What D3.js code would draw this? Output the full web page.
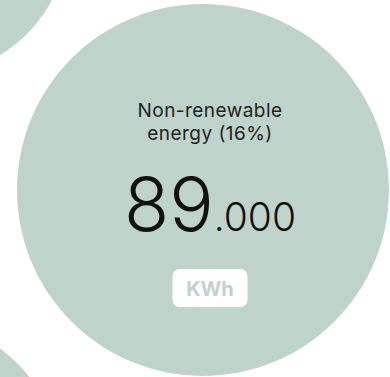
<!DOCTYPE html>
<html>
<head>
<meta charset="utf-8">
<script src="https://cdn.jsdelivr.net/npm/d3@7"></script>
<style>
  html, body { margin: 0; padding: 0; background: #ffffff; }
  svg { display: block; }
</style>
</head>
<body>
<div id="chart"></div>
<script>
// ---- data ----
const categories = ["Non-renewable energy", "Energy B", "Energy C"];
const values = [89000, 50400, 58700];      // KWh
const shares = [16, 9, 11];                // % of total
const unitLabel = "KWh";

// ---- layout (not data) ----
const width = 390, height = 377;
const focusIndex = 0;
const neighbourAngles = [null, -137.2, 136.3]; // degrees, relative to focus bubble
const neighbourGaps = [null, 49, 68];
const fill = "#bed3ca";

const svg = d3.select("#chart").append("svg")
  .attr("width", width).attr("height", height);

const r = d3.scaleSqrt().domain([0, d3.max(values)]).range([0, 186]);

const focus = { x: width / 2 + 8, y: height / 2 + 1.5 };

const nodes = values.map((v, i) => {
  const rad = r(v);
  if (i === focusIndex) return { i, v, rad, x: focus.x, y: focus.y };
  const a = neighbourAngles[i] * Math.PI / 180;
  const d = r(values[focusIndex]) + rad + neighbourGaps[i];
  return { i, v, rad, x: focus.x + d * Math.cos(a), y: focus.y + d * Math.sin(a) };
});

svg.selectAll("circle.bubble").data(nodes).join("circle")
  .attr("class", "bubble")
  .attr("cx", d => d.x).attr("cy", d => d.y).attr("r", d => d.rad)
  .attr("fill", fill);

// ---- label of the focus bubble ----
const n = nodes[focusIndex];
const tx = n.x + 7;
const g = svg.append("g").attr("transform", `translate(${tx},${n.y})`);
const font = "Inter, 'Noto Sans', sans-serif";

const words = categories[focusIndex].split(" ");
g.append("text")
  .attr("text-anchor", "middle").attr("font-family", font)
  .attr("font-size", 19).attr("letter-spacing", 0.45).attr("fill", "#222222")
  .selectAll("tspan").data([words[0], words.slice(1).join(" ") + ` (${shares[focusIndex]}%)`])
  .join("tspan")
  .attr("x", 0).attr("y", (d, i) => -73 + i * 22.5)
  .text(d => d);

const loc = d3.formatLocale({ decimal: ",", thousands: ".", grouping: [3], currency: ["", ""] });
const formatted = loc.format(",d")(n.v);
const cut = formatted.indexOf(".");
const big = cut >= 0 ? formatted.slice(0, cut) : formatted;
const small = cut >= 0 ? formatted.slice(cut) : "";

const num = g.append("text")
  .attr("text-anchor", "middle").attr("font-family", font)
  .attr("font-weight", 300).attr("fill", "#111111")
  .attr("y", 41);
num.append("tspan").attr("font-size", 74).text(big);
num.append("tspan").attr("font-size", 39).text(small);

const boxW = 75, boxH = 38;
g.append("rect")
  .attr("x", -boxW / 2).attr("y", 79).attr("width", boxW).attr("height", boxH)
  .attr("rx", 7).attr("fill", "#ffffff");
g.append("text")
  .attr("text-anchor", "middle").attr("font-family", font)
  .attr("font-weight", 700).attr("font-size", 20).attr("fill", fill)
  .attr("y", 105.5).text(unitLabel);
</script>
</body>
</html>
